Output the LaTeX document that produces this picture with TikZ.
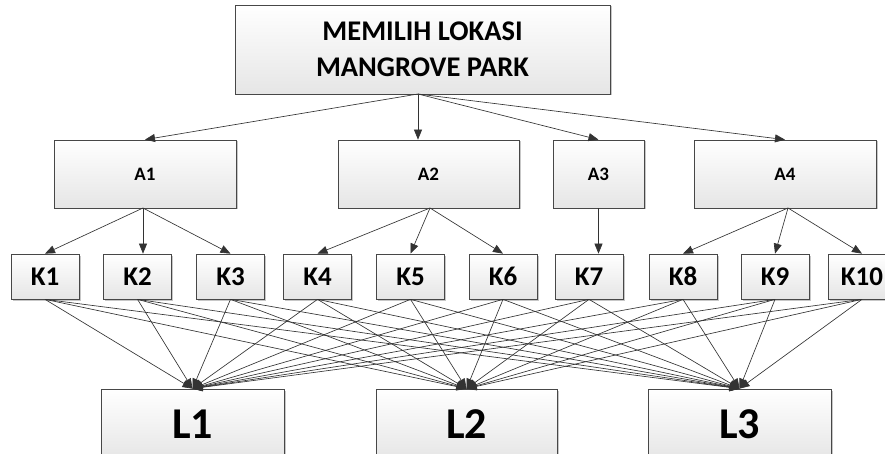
\documentclass[tikz,border=0pt]{standalone}
\usepackage{fontspec}
\setmainfont{Carlito}
\usetikzlibrary{arrows.meta,shadows}
\begin{document}
\begin{tikzpicture}[x=1pt,y=-1pt,
  box/.style={draw=black!72, line width=0.7pt, top color=white, bottom color=black!10,
    drop shadow={shadow xshift=1.5pt, shadow yshift=-1.5pt, opacity=0.22, fill=black},
    inner sep=0pt, align=center},
  topbox/.style={box, minimum width=375pt, minimum height=89pt, font=\fontsize{28.5}{36}\selectfont\bfseries},
  abox/.style={box, minimum height=68pt, font=\fontsize{19}{22}\selectfont\bfseries},
  kbox/.style={box, minimum width=68pt, minimum height=45pt, font=\fontsize{27}{30}\selectfont\bfseries},
  lbox/.style={box, minimum width=183pt, minimum height=71pt, font=\fontsize{44}{48}\selectfont\bfseries},
  conn/.style={draw=black!80, line width=0.65pt, -{Triangle[length=10pt,width=8pt]}},
]
\clip (0,0) rectangle (885,454);
\useasboundingbox (0,0) rectangle (885,454);
\fill[white] (0,0) rectangle (885,454);

\coordinate (ts) at (418,94);

\node[topbox] (top) at (422.5,49.5) {MEMILIH LOKASI\\MANGROVE PARK};

\node[abox, minimum width=182pt] (A1) at (145,174) {A1};
\node[abox, minimum width=181pt] (A2) at (428.5,174) {A2};
\node[abox, minimum width=91pt]  (A3) at (598.5,174) {A3};
\node[abox, minimum width=182pt] (A4) at (785,174) {A4};

\node[kbox] (K1) at (45,276.5) {K1};
\node[kbox] (K2) at (137.5,276.5) {K2};
\node[kbox] (K3) at (230.5,276.5) {K3};
\node[kbox] (K4) at (317.5,276.5) {K4};
\node[kbox] (K5) at (410.5,276.5) {K5};
\node[kbox] (K6) at (503,276.5) {K6};
\node[kbox] (K7) at (589,276.5) {K7};
\node[kbox] (K8) at (683,276.5) {K8};
\node[kbox] (K9) at (775,276.5) {K9};
\node[kbox] (K10) at (862,276.5) {K10};

\node[lbox] (L1) at (192.5,424.5) {L1};
\node[lbox, minimum width=181pt] (L2) at (466.5,424.5) {L2};
\node[lbox] (L3) at (739.5,424.5) {L3};

% top to A
\draw[conn] (ts) -- (A1.north);
\draw[conn] (ts) -- (ts |- A2.north);
\draw[conn] (ts) -- (A3.north);
\draw[conn] (ts) -- (A4.north);

% A to K
\coordinate (a1s) at (143,208);
\foreach \k in {K1,K3} \draw[conn] (a1s) -- (\k.north);
\draw[conn] (a1s) -- (a1s |- K2.north);
\coordinate (a2s) at (430,208);
\foreach \k in {K4,K5,K6} \draw[conn] (a2s) -- (\k.north);
\draw[conn] (A3.south) -- (A3.south |- K7.north);
\coordinate (a4s) at (788,208);
\foreach \k in {K8,K9,K10} \draw[conn] (a4s) -- (\k.north);

% K to L
\foreach \k in {K1,K2,K3,K4,K5,K6,K7,K8,K9,K10}
  \foreach \l in {L1,L2,L3}
    \draw[conn] (\k.south) -- (\l.north);
\end{tikzpicture}
\end{document}
